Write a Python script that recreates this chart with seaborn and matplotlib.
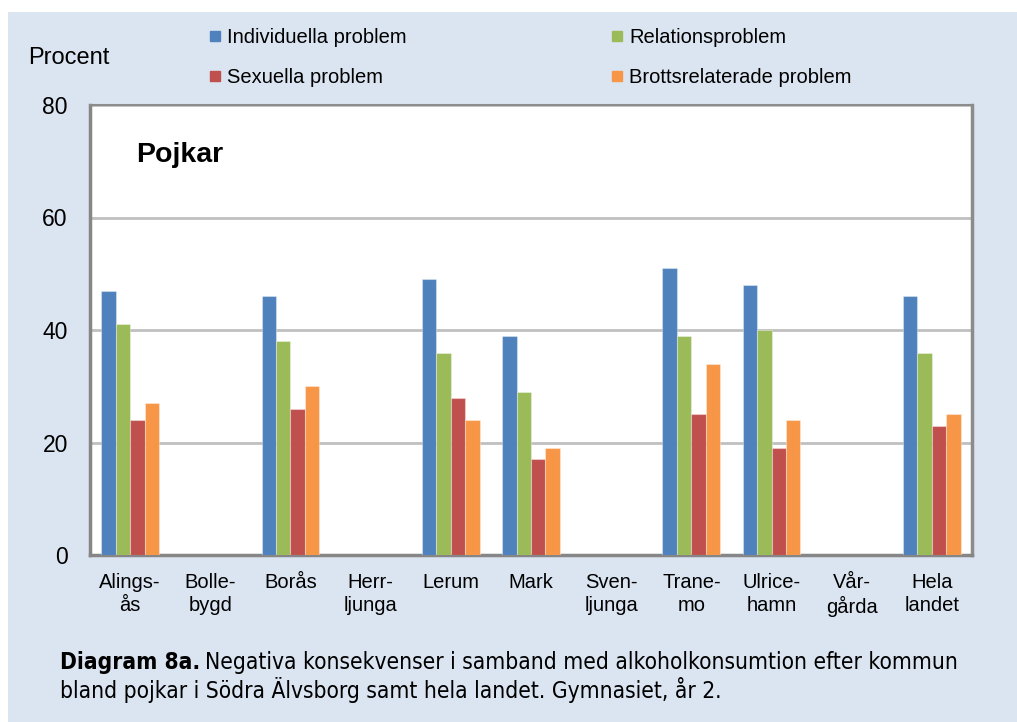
import numpy as np
import pandas as pd
import seaborn as sns
import matplotlib.pyplot as plt
from matplotlib.patches import Rectangle

# data (NaN = no bar shown)
kommuner = ["Alings-\nås", "Bolle-\nbygd", "Borås", "Herr-\nljunga", "Lerum", "Mark",
            "Sven-\nljunga", "Trane-\nmo", "Ulrice-\nhamn", "Vår-\ngårda", "Hela\nlandet"]
series = ["Individuella problem", "Relationsproblem", "Sexuella problem", "Brottsrelaterade problem"]
individuella = [47, np.nan, 46, np.nan, 49, 39, np.nan, 51, 48, np.nan, 46]
relation = [41, np.nan, 38, np.nan, 36, 29, np.nan, 39, 40, np.nan, 36]
sexuella = [24, np.nan, 26, np.nan, 28, 17, np.nan, 25, 19, np.nan, 23]
brott = [27, np.nan, 30, np.nan, 24, 19, np.nan, 34, 24, np.nan, 25]
colors = ["#4f81bd", "#9bbb59", "#c0504d", "#f79646"]

df = pd.DataFrame({"kommun": kommuner * 4,
                   "serie": np.repeat(series, len(kommuner)),
                   "procent": individuella + relation + sexuella + brott})

plt.rcParams['font.family'] = ['Liberation Sans', 'DejaVu Sans']

fig = plt.figure(figsize=(10.17, 7.22), dpi=100)
fig.patch.set_facecolor("white")
fig.patches.append(Rectangle((8 / 1017, 0), 1, 1 - 12 / 722, transform=fig.transFigure,
                             facecolor="#dbe5f1", edgecolor="none", zorder=-10))

W, H = 1017, 722
ax = fig.add_axes([90 / W, 1 - 555 / H, (972 - 90) / W, 450 / H])
ax.set_facecolor("white")

sns.barplot(data=df, x="kommun", y="procent", hue="serie", order=kommuner,
            hue_order=series, palette=colors, width=0.72, gap=0,
            saturation=1, errorbar=None, ax=ax, legend=False, zorder=3,
            edgecolor=(1, 1, 1, 0.35), linewidth=0.8)

ax.set_ylim(0, 80)
ax.set_yticks([0, 20, 40, 60, 80])
ax.yaxis.grid(True, color="#c0c0c0", linewidth=2, zorder=0)
ax.set_axisbelow(True)
ax.set_xlabel("")
ax.set_ylabel("")
ax.tick_params(axis="y", length=0, labelsize=16.5, pad=16)
ax.tick_params(axis="x", length=0, labelsize=14.5, pad=13)
for lab in ax.get_xticklabels():
    lab.set_multialignment("center")
    lab.set_linespacing(1.25)
for side in ["left", "bottom"]:
    ax.spines[side].set_color("#868686")
    ax.spines[side].set_linewidth(2.5)
for side in ["top", "right"]:
    ax.spines[side].set_color("#8c8c8c")
    ax.spines[side].set_linewidth(1.5)
ax.spines["right"].set_linewidth(2.5)

ax.text(0.052, 0.89, "Pojkar", transform=ax.transAxes, fontsize=20.5,
        fontweight="bold", va="center", ha="left")
fig.text(28 / W, 1 - 58 / H, "Procent", fontsize=17, va="center", ha="left")

# legend, 2x2 as in the original
handles = [plt.Line2D([], [], marker="s", linestyle="", markersize=7,
                      markerfacecolor=c, markeredgecolor=c) for c in colors]
order = [0, 2, 1, 3]
fig.legend([handles[i] for i in order], [series[i] for i in order], ncol=2,
           loc="center left", bbox_to_anchor=(199 / W, 1 - 57.5 / H), frameon=False,
           fontsize=14.5, handlelength=0.6, handletextpad=0.3, columnspacing=10.15,
           labelspacing=1.05, borderpad=0)

# caption
cap_y1 = 1 - 663 / H
cap_font = dict(fontsize=16.3, va="center", ha="left", family="DejaVu Sans",
                fontstretch="condensed")
t = fig.text(60 / W, cap_y1, "Diagram 8a.", fontweight="bold", **cap_font)
fig.canvas.draw()
bb = t.get_window_extent()
fig.text((bb.x1 + 5) / W, cap_y1,
         "Negativa konsekvenser i samband med alkoholkonsumtion efter kommun", **cap_font)
fig.text(60 / W, 1 - 690 / H,
         "bland pojkar i Södra Älvsborg samt hela landet. Gymnasiet, år 2.", **cap_font)

fig.savefig("out.png", dpi=100, facecolor=fig.get_facecolor())
